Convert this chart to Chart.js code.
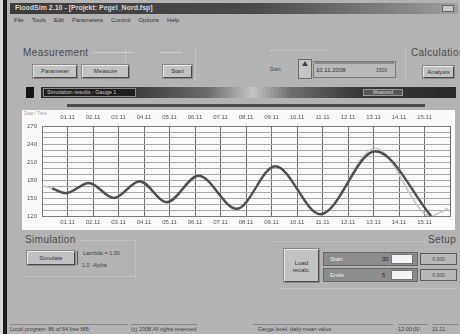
<!DOCTYPE html>
<html>
<head>
<meta charset="utf-8">
<script src="https://cdn.jsdelivr.net/npm/chart.js@4.4.1/dist/chart.umd.min.js"></script>
<style>
  html, body { margin: 0; padding: 0; }
  body { width: 460px; height: 334px; overflow: hidden; background: #b3b3b3;
         font-family: "Liberation Sans", Arial, sans-serif; color: #3a3a3a; position: relative; }
  .abs { position: absolute; }
  .btn { position: absolute; background: #c2c2c2; box-sizing: border-box;
         border-top: 1px solid #e8e8e8; border-left: 1px solid #e8e8e8;
         border-bottom: 1px solid #4a4a4a; border-right: 1px solid #4a4a4a;
         outline: 1px solid #8a8a8a; font-size: 6px; text-align: center; color: #333; }
  .grp { position: absolute; font-size: 10px; letter-spacing: 0.4px; color: #4a4a4a; }
  .menu span { margin-right: 8px; }
  .panel { position: absolute; background: #8c8c8c; box-sizing: border-box; border: 1px solid #666; font-size: 6px; color: #eee; }
  .field { position: absolute; background: #f4f4f4; border: 1px solid #777; box-sizing: border-box; }
  .vbox { position: absolute; background: #b8b8b8; border: 1px solid #5a5a5a; box-sizing: border-box; font-size: 5px; color: #444; text-align: center; }
  .status { position: absolute; top: 324px; height: 9px; font-size: 5.5px; color: #444; border-top: 1px solid #888; box-sizing: border-box; padding-top: 1px; }
</style>
</head>
<body>
<!-- window frame -->
<div class="abs" style="left:0;top:0;width:3px;height:334px;background:#d8d8d8"></div>
<div class="abs" style="left:3px;top:0;width:4px;height:334px;background:#1c1c1c"></div>

<!-- title bar -->
<div class="abs" style="left:10px;top:3px;width:448px;height:11px;background:linear-gradient(90deg,#3c3c3c 0%,#4a4a4a 55%,#8a8a8a 90%,#a0a0a0 100%);"></div>
<div class="abs" style="left:15px;top:4px;font-size:7px;color:#d8d8d8;font-weight:bold;">FloodSim 2.10 - [Projekt: Pegel_Nord.fsp]</div>
<div class="abs" style="left:442px;top:5px;width:12px;height:7px;background:#c8c8c8;border:1px solid #666;box-sizing:border-box"></div>

<!-- menu -->
<div class="abs menu" style="left:14px;top:17px;font-size:6px;color:#333;white-space:nowrap;">
  <span>File</span><span>Tools</span><span>Edit</span><span>Parameters</span><span>Control</span><span>Options</span><span>Help</span>
</div>

<!-- measurement group -->
<div class="grp" style="left:23px;top:47px;">Measurement</div>
<div class="abs" style="left:93px;top:52px;width:40px;height:1px;background:#d0d0d0"></div>
<div class="abs" style="left:125px;top:47px;width:1px;height:33px;border-left:1px dotted #d4d4d4"></div>
<div class="abs" style="left:160px;top:52px;width:22px;height:1px;background:#d0d0d0"></div>
<div class="abs" style="left:195px;top:47px;width:1px;height:33px;border-left:1px dotted #d4d4d4"></div>
<div class="btn" style="left:33px;top:65px;width:44px;height:13px;line-height:11px;">Parameter</div>
<div class="btn" style="left:82px;top:65px;width:47px;height:13px;line-height:11px;">Measure</div>
<div class="btn" style="left:163px;top:65px;width:29px;height:13px;line-height:11px;">Start</div>

<!-- start time control -->
<div class="abs" style="left:270px;top:66px;font-size:5px;color:#444;">Start</div>
<div class="abs" style="left:270px;top:50px;width:60px;height:1px;border-top:1px dotted #d0d0d0"></div>
<div class="abs" style="left:298px;top:59px;width:14px;height:20px;background:#c4c4c4;border:1px solid #6a6a6a;box-sizing:border-box"></div>
<div class="abs" style="left:302px;top:61px;width:0;height:0;border-left:3px solid transparent;border-right:3px solid transparent;border-bottom:5px solid #444"></div>
<div class="abs" style="left:313px;top:61px;width:83px;height:17px;background:#b9b9b9;border:1px solid #7a7a7a;box-sizing:border-box"></div>
<div class="abs" style="left:315px;top:62px;width:79px;height:2px;background:#8a8a8a"></div>
<div class="abs" style="left:316px;top:67px;font-size:6px;color:#333;">10.11.2008</div>
<div class="abs" style="left:376px;top:67px;font-size:5px;color:#444;">1500</div>

<!-- calculation group -->
<div class="grp" style="left:411px;top:47px;">Calculation</div>
<div class="abs" style="left:405px;top:47px;width:1px;height:33px;border-left:1px dotted #d4d4d4"></div>
<div class="btn" style="left:423px;top:66px;width:31px;height:12px;line-height:10px;">Analysis</div>

<!-- result header bar -->
<div class="abs" style="left:26px;top:87px;width:8px;height:11px;background:#151515"></div>
<div class="abs" style="left:41px;top:87px;width:415px;height:11px;background:linear-gradient(90deg,#2e2e2e 0%,#3a3a3a 22%,#6a6a6a 40%,#c4c4c4 51%,#707070 60%,#3a3a3a 75%,#2a2a2a 100%);"></div>
<div class="abs" style="left:43px;top:88px;width:93px;height:9px;background:#1e1e1e;border:1px solid #888;box-sizing:border-box;font-size:5.5px;color:#c8c8c8;line-height:7px;padding-left:3px;">Simulation results - Gauge 1</div>
<div class="abs" style="left:363px;top:89px;width:40px;height:7px;background:#555;border:1px solid #999;box-sizing:border-box;font-size:4.5px;color:#ddd;line-height:5px;text-align:center;">Measured</div>
<div class="abs" style="left:67px;top:104px;width:358px;height:3px;background:#4c4c4c"></div>

<!-- chart panel -->
<div class="abs" style="left:22px;top:110px;width:433px;height:120px;background:#fafafa;"></div>
<div class="abs" style="left:24px;top:111px;font-size:4.5px;color:#9a9a9a;">Date / Time</div>
<div class="abs" style="left:22px;top:110px;width:433px;height:120px;">
  <canvas id="chart"></canvas>
</div>

<!-- simulation group -->
<div class="grp" style="left:25px;top:234px;">Simulation</div>
<div class="abs" style="left:80px;top:240px;width:56px;height:1px;border-top:1px dotted #cfcfcf"></div>
<div class="abs" style="left:135px;top:240px;width:1px;height:36px;border-left:1px dotted #cfcfcf"></div>
<div class="abs" style="left:26px;top:276px;width:110px;height:1px;border-top:1px dotted #cfcfcf"></div>
<div class="btn" style="left:27px;top:251px;width:48px;height:14px;line-height:12px;">Simulate</div>
<div class="abs" style="left:77px;top:251px;width:1px;height:14px;background:#555"></div>
<div class="abs" style="left:83px;top:250px;font-size:5.5px;color:#444;">Lambda = 1.00</div>
<div class="abs" style="left:82px;top:262px;font-size:5.5px;color:#444;">1.0&nbsp;&nbsp;Alpha</div>

<!-- setup group -->
<div class="grp" style="left:428px;top:234px;">Setup</div>
<div class="abs" style="left:270px;top:241px;width:155px;height:1px;border-top:1px dotted #cfcfcf"></div>
<div class="abs" style="left:280px;top:288px;width:175px;height:1px;border-top:1px dotted #d6d6d6"></div>
<div class="btn" style="left:284px;top:249px;width:35px;height:33px;padding-top:10px;line-height:7px;">Load<br>recalc.</div>
<div class="panel" style="left:323px;top:252px;width:95px;height:14px;"><span style="position:absolute;left:6px;top:3px">Start</span><span style="position:absolute;left:58px;top:3px;color:#222">30</span></div>
<div class="panel" style="left:323px;top:268px;width:95px;height:14px;"><span style="position:absolute;left:6px;top:3px">Ende</span><span style="position:absolute;left:58px;top:3px;color:#222">5</span></div>
<div class="field" style="left:391px;top:254px;width:22px;height:10px;"></div>
<div class="field" style="left:391px;top:270px;width:22px;height:10px;"></div>
<div class="vbox" style="left:420px;top:253px;width:37px;height:12px;line-height:10px;">0.000</div>
<div class="vbox" style="left:420px;top:269px;width:37px;height:12px;line-height:10px;">0.000</div>

<!-- status bar -->
<div class="status" style="left:10px;width:118px;">Local program: 86 of 64 free MB</div>
<div class="status" style="left:131px;width:66px;">(c) 2008 All rights reserved</div>
<div class="status" style="left:253px;width:140px;">&nbsp;&nbsp;&nbsp;Gauge level: daily mean value</div>
<div class="status" style="left:398px;width:30px;">12:00:00</div>
<div class="status" style="left:432px;width:26px;">11.11.</div>

<script>
// Time axis: day positions 0..16, labelled days at 1..15
const xTickLabels = ['01.11','02.11','03.11','04.11','05.11','06.11','07.11','08.11',
                     '09.11','10.11','11.11','12.11','13.11','14.11','15.11'];
// Level axis labels (cm)
const yTickLabels = [120, 150, 180, 210, 240, 270];

// Measured gauge level (thin light line)
const measuredTime  = [0.0, 0.45, 0.94, 1.84, 2.82, 3.83, 4.89, 6.14, 7.63, 9.15, 10.92, 13.07, 15.26, 15.65, 15.92];
const measuredLevel = [171, 165, 158, 175, 150, 178, 143, 187, 132, 203, 123, 233, 120, 127, 133];

// Simulated gauge level (thick dark line)
const simulatedTime  = [0.4, 0.94, 1.84, 2.82, 3.83, 4.89, 6.14, 7.63, 9.15, 10.92, 13.07, 15.26];
const simulatedLevel = [166, 158, 175, 150, 178, 143, 187, 132, 203, 123, 228, 120];

const toPoints = (xs, ys) => xs.map((x, i) => ({ x: x, y: ys[i] }));

Chart.defaults.font.family = '"Liberation Sans", Arial, sans-serif';
Chart.defaults.font.size = 6;
Chart.defaults.color = '#555';

const xLabel = v => (v >= 1 && v <= xTickLabels.length) ? xTickLabels[v - 1] : '';

new Chart(document.getElementById('chart'), {
  type: 'line',
  data: {
    datasets: [
      {
        label: 'Simulated',
        data: toPoints(simulatedTime, simulatedLevel),
        borderColor: '#4e4e4e',
        borderWidth: 2.4,
        pointRadius: 0,
        cubicInterpolationMode: 'monotone',
        xAxisID: 'x', yAxisID: 'y'
      },
      {
        label: 'Measured',
        data: toPoints(measuredTime, measuredLevel),
        borderColor: '#c6c6c6',
        borderWidth: 1.6,
        pointRadius: 0,
        cubicInterpolationMode: 'monotone',
        xAxisID: 'x', yAxisID: 'y'
      }
    ]
  },
  options: {
    responsive: true,
    maintainAspectRatio: false,
    animation: false,
    layout: { padding: { left: 0, right: 3, top: 0, bottom: 0 } },
    plugins: { legend: { display: false }, tooltip: { enabled: false } },
    scales: {
      x: {
        type: 'linear', position: 'bottom', min: 0, max: 16,
        afterFit: s => { s.height = 14; },
        grid: { color: '#6e6e6e', lineWidth: 1, drawTicks: false },
        border: { color: '#7a7a7a' },
        ticks: { stepSize: 1, autoSkip: false, maxRotation: 0, padding: 3, callback: xLabel }
      },
      x2: {
        type: 'linear', position: 'top', min: 0, max: 16,
        afterFit: s => { s.height = 16; },
        grid: { display: false, drawTicks: false },
        border: { color: '#7a7a7a' },
        ticks: { stepSize: 1, autoSkip: false, maxRotation: 0, padding: 5, callback: xLabel }
      },
      y: {
        type: 'linear', min: yTickLabels[0], max: yTickLabels[yTickLabels.length - 1],
        afterFit: s => { s.width = 20; },
        grid: { color: '#a9a9a9', lineWidth: 1, drawTicks: false },
        border: { color: '#7a7a7a' },
        ticks: {
          stepSize: 10, autoSkip: false, padding: 5,
          callback: v => yTickLabels.includes(v) ? String(v) : ''
        }
      }
    }
  }
});
</script>
</body>
</html>
